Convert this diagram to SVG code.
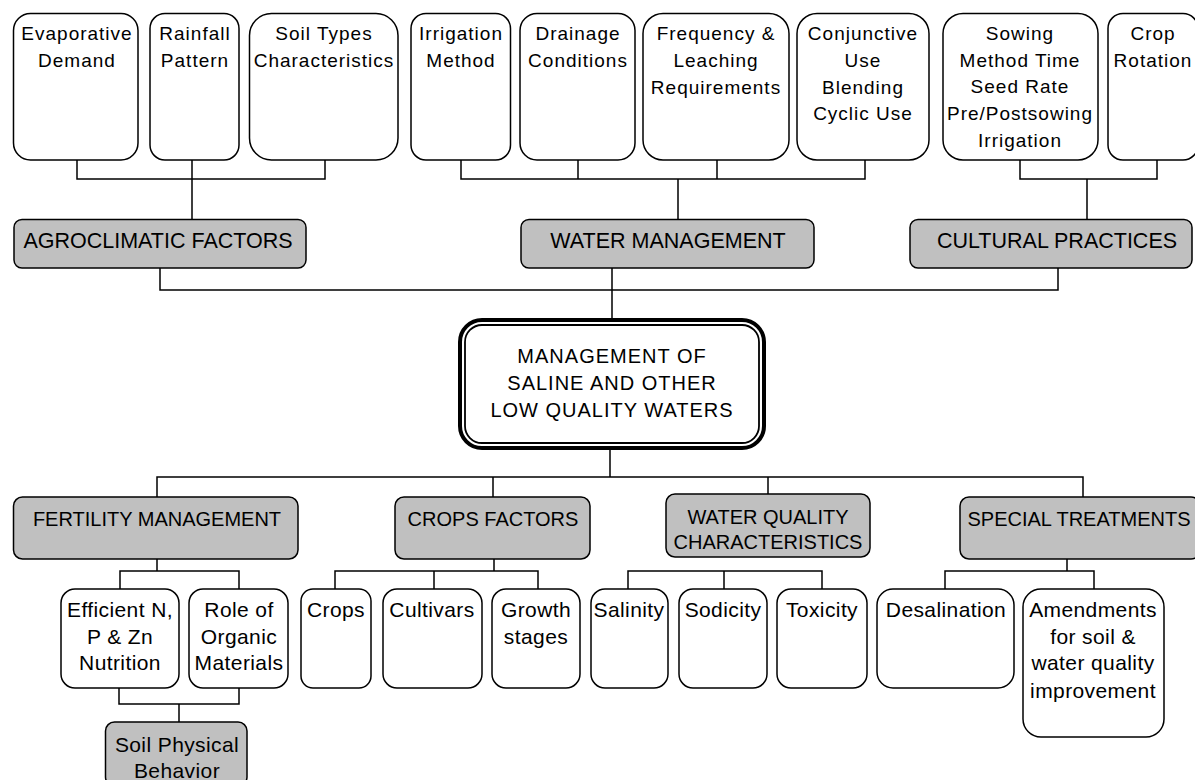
<svg xmlns="http://www.w3.org/2000/svg" width="1195" height="780" viewBox="0 0 1195 780">
  <style>
    text { font-family: "Liberation Sans", Arial, sans-serif; fill: #000; text-anchor: middle; }
    .w { fill: #fff; stroke: #000; stroke-width: 1.5; }
    .g { fill: #c0c0c0; stroke: #000; stroke-width: 1.5; }
    .c { fill: none; stroke: #000; stroke-width: 1.5; }
    .t { font-size: 19px; letter-spacing: 1px; }
    .tb { font-size: 21px; letter-spacing: 0.4px; }
    .lg { font-size: 21.5px; }
    .lb { font-size: 20px; }
    .lc { font-size: 20px; letter-spacing: 1px; }
  </style>

  <!-- connectors -->
  <g id="connectors" class="c">
    <!-- agroclimatic factors -->
    <path d="M77 160V179H325V160M192 160V179M192 179V219"/>
    <!-- water management -->
    <path d="M461 160V179H865V160M578 160V179M717 160V179M678 179V219"/>
    <!-- cultural practices -->
    <path d="M1020 160V179H1157V160M1087 179V219"/>
    <!-- first level to centre -->
    <path d="M160 268V290H1058V268M612 268V318"/>
    <!-- centre to second level -->
    <path d="M610 450V477M157 497V477H1083V497M493 477V497M768 477V494"/>
    <!-- fertility management -->
    <path d="M157 559V571M120 589V571H239V589"/>
    <path d="M119 688V704H239V688M179 704V722"/>
    <!-- crops factors -->
    <path d="M494 559V571M335 589V571H538V589M434 571V589"/>
    <!-- water quality characteristics -->
    <path d="M628 589V571H822V589M724 571V589"/>
    <!-- special treatments -->
    <path d="M1067 559V571M945 589V571H1094V589"/>
  </g>

  <!-- top row -->
  <g id="evaporative-demand">
    <rect class="w" x="13.5" y="13.5" width="124.5" height="146.5" rx="17"/>
    <text class="t" x="77" y="40">Evaporative</text>
    <text class="t" x="77" y="67">Demand</text>
  </g>
  <g id="rainfall-pattern">
    <rect class="w" x="150" y="13.5" width="89" height="146.5" rx="15"/>
    <text class="t" x="195" y="40">Rainfall</text>
    <text class="t" x="195" y="67">Pattern</text>
  </g>
  <g id="soil-types">
    <rect class="w" x="249.5" y="13.5" width="148.5" height="146.5" rx="22"/>
    <text class="t" x="324" y="40">Soil Types</text>
    <text class="t" x="324" y="67">Characteristics</text>
  </g>
  <g id="irrigation-method">
    <rect class="w" x="411" y="13.5" width="99.5" height="146.5" rx="15"/>
    <text class="t" x="461" y="40">Irrigation</text>
    <text class="t" x="461" y="67">Method</text>
  </g>
  <g id="drainage-conditions">
    <rect class="w" x="520" y="13.5" width="115" height="146.5" rx="17"/>
    <text class="t" x="578" y="40">Drainage</text>
    <text class="t" x="578" y="67">Conditions</text>
  </g>
  <g id="frequency-leaching">
    <rect class="w" x="643" y="13.5" width="146" height="146.5" rx="20"/>
    <text class="t" x="716" y="40">Frequency &amp;</text>
    <text class="t" x="716" y="67">Leaching</text>
    <text class="t" x="716" y="94">Requirements</text>
  </g>
  <g id="conjunctive-use">
    <rect class="w" x="797" y="13.5" width="132" height="146.5" rx="20"/>
    <text class="t" x="863" y="40">Conjunctive</text>
    <text class="t" x="863" y="67">Use</text>
    <text class="t" x="863" y="94">Blending</text>
    <text class="t" x="863" y="120">Cyclic Use</text>
  </g>
  <g id="sowing">
    <rect class="w" x="943" y="13.5" width="155" height="146.5" rx="20"/>
    <text class="t" x="1020" y="40">Sowing</text>
    <text class="t" x="1020" y="67">Method Time</text>
    <text class="t" x="1020" y="93">Seed Rate</text>
    <text class="t" x="1020" y="120">Pre/Postsowing</text>
    <text class="t" x="1020" y="147">Irrigation</text>
  </g>
  <g id="crop-rotation">
    <rect class="w" x="1108" y="13.5" width="90" height="146.5" rx="15"/>
    <text class="t" x="1153" y="40">Crop</text>
    <text class="t" x="1153" y="67">Rotation</text>
  </g>

  <!-- first level -->
  <g id="agroclimatic-factors">
    <rect class="g" x="14" y="219.5" width="292" height="48.5" rx="8"/>
    <text class="lg" x="158" y="248">AGROCLIMATIC FACTORS</text>
  </g>
  <g id="water-management">
    <rect class="g" x="521" y="219.5" width="293" height="48.5" rx="8"/>
    <text class="lg" x="668" y="248">WATER MANAGEMENT</text>
  </g>
  <g id="cultural-practices">
    <rect class="g" x="910" y="219.5" width="282" height="48.5" rx="8"/>
    <text class="lg" x="1057" y="248">CULTURAL PRACTICES</text>
  </g>

  <!-- centre -->
  <g id="management">
    <rect x="460" y="320" width="304" height="128" rx="22" fill="#fff" stroke="#000" stroke-width="4"/>
    <rect x="465" y="325" width="294" height="118" rx="17" fill="none" stroke="#000" stroke-width="1.8"/>
    <text class="lc" x="612" y="363">MANAGEMENT OF</text>
    <text class="lc" x="612" y="390">SALINE AND OTHER</text>
    <text class="lc" x="612" y="417">LOW QUALITY WATERS</text>
  </g>

  <!-- second level -->
  <g id="fertility-management">
    <rect class="g" x="13.5" y="497" width="284.5" height="62" rx="9"/>
    <text class="lb" x="157" y="526">FERTILITY MANAGEMENT</text>
  </g>
  <g id="crops-factors">
    <rect class="g" x="395" y="497" width="195" height="62" rx="9"/>
    <text class="lb" x="493" y="526">CROPS FACTORS</text>
  </g>
  <g id="water-quality">
    <rect class="g" x="666" y="494" width="204" height="63" rx="9"/>
    <text class="lb" x="768" y="524">WATER QUALITY</text>
    <text class="lb" x="768" y="549">CHARACTERISTICS</text>
  </g>
  <g id="special-treatments">
    <rect class="g" x="960" y="497" width="240" height="62" rx="9"/>
    <text class="lb" x="1079" y="526">SPECIAL TREATMENTS</text>
  </g>

  <!-- third level -->
  <g id="npzn-nutrition">
    <rect class="w" x="61" y="589" width="118" height="99" rx="14"/>
    <text class="tb" x="120" y="617">Efficient N,</text>
    <text class="tb" x="120" y="644">P &amp; Zn</text>
    <text class="tb" x="120" y="670">Nutrition</text>
  </g>
  <g id="organic-materials">
    <rect class="w" x="189" y="589" width="99" height="99" rx="14"/>
    <text class="tb" x="239" y="617">Role of</text>
    <text class="tb" x="239" y="644">Organic</text>
    <text class="tb" x="239" y="670">Materials</text>
  </g>
  <g id="soil-physical-behavior">
    <rect class="g" x="105.5" y="722" width="141.5" height="64" rx="9"/>
    <text class="tb" x="177" y="752">Soil Physical</text>
    <text class="tb" x="177" y="778">Behavior</text>
  </g>
  <g id="crops">
    <rect class="w" x="301" y="589" width="70" height="99" rx="12"/>
    <text class="tb" x="336" y="617">Crops</text>
  </g>
  <g id="cultivars">
    <rect class="w" x="383" y="589" width="99" height="99" rx="14"/>
    <text class="tb" x="432" y="617">Cultivars</text>
  </g>
  <g id="growth-stages">
    <rect class="w" x="492" y="589" width="88" height="99" rx="14"/>
    <text class="tb" x="536" y="617">Growth</text>
    <text class="tb" x="536" y="644">stages</text>
  </g>
  <g id="salinity">
    <rect class="w" x="591" y="589" width="77" height="99" rx="14"/>
    <text class="tb" x="629" y="617">Salinity</text>
  </g>
  <g id="sodicity">
    <rect class="w" x="679" y="589" width="88" height="99" rx="14"/>
    <text class="tb" x="723" y="617">Sodicity</text>
  </g>
  <g id="toxicity">
    <rect class="w" x="777" y="589" width="90" height="99" rx="14"/>
    <text class="tb" x="822" y="617">Toxicity</text>
  </g>
  <g id="desalination">
    <rect class="w" x="877" y="589" width="137" height="99" rx="16"/>
    <text class="tb" x="946" y="617">Desalination</text>
  </g>
  <g id="amendments">
    <rect class="w" x="1023" y="589" width="141" height="148" rx="18"/>
    <text class="tb" x="1093" y="617">Amendments</text>
    <text class="tb" x="1093" y="644">for soil &amp;</text>
    <text class="tb" x="1093" y="670">water quality</text>
    <text class="tb" x="1093" y="698">improvement</text>
  </g>
</svg>
